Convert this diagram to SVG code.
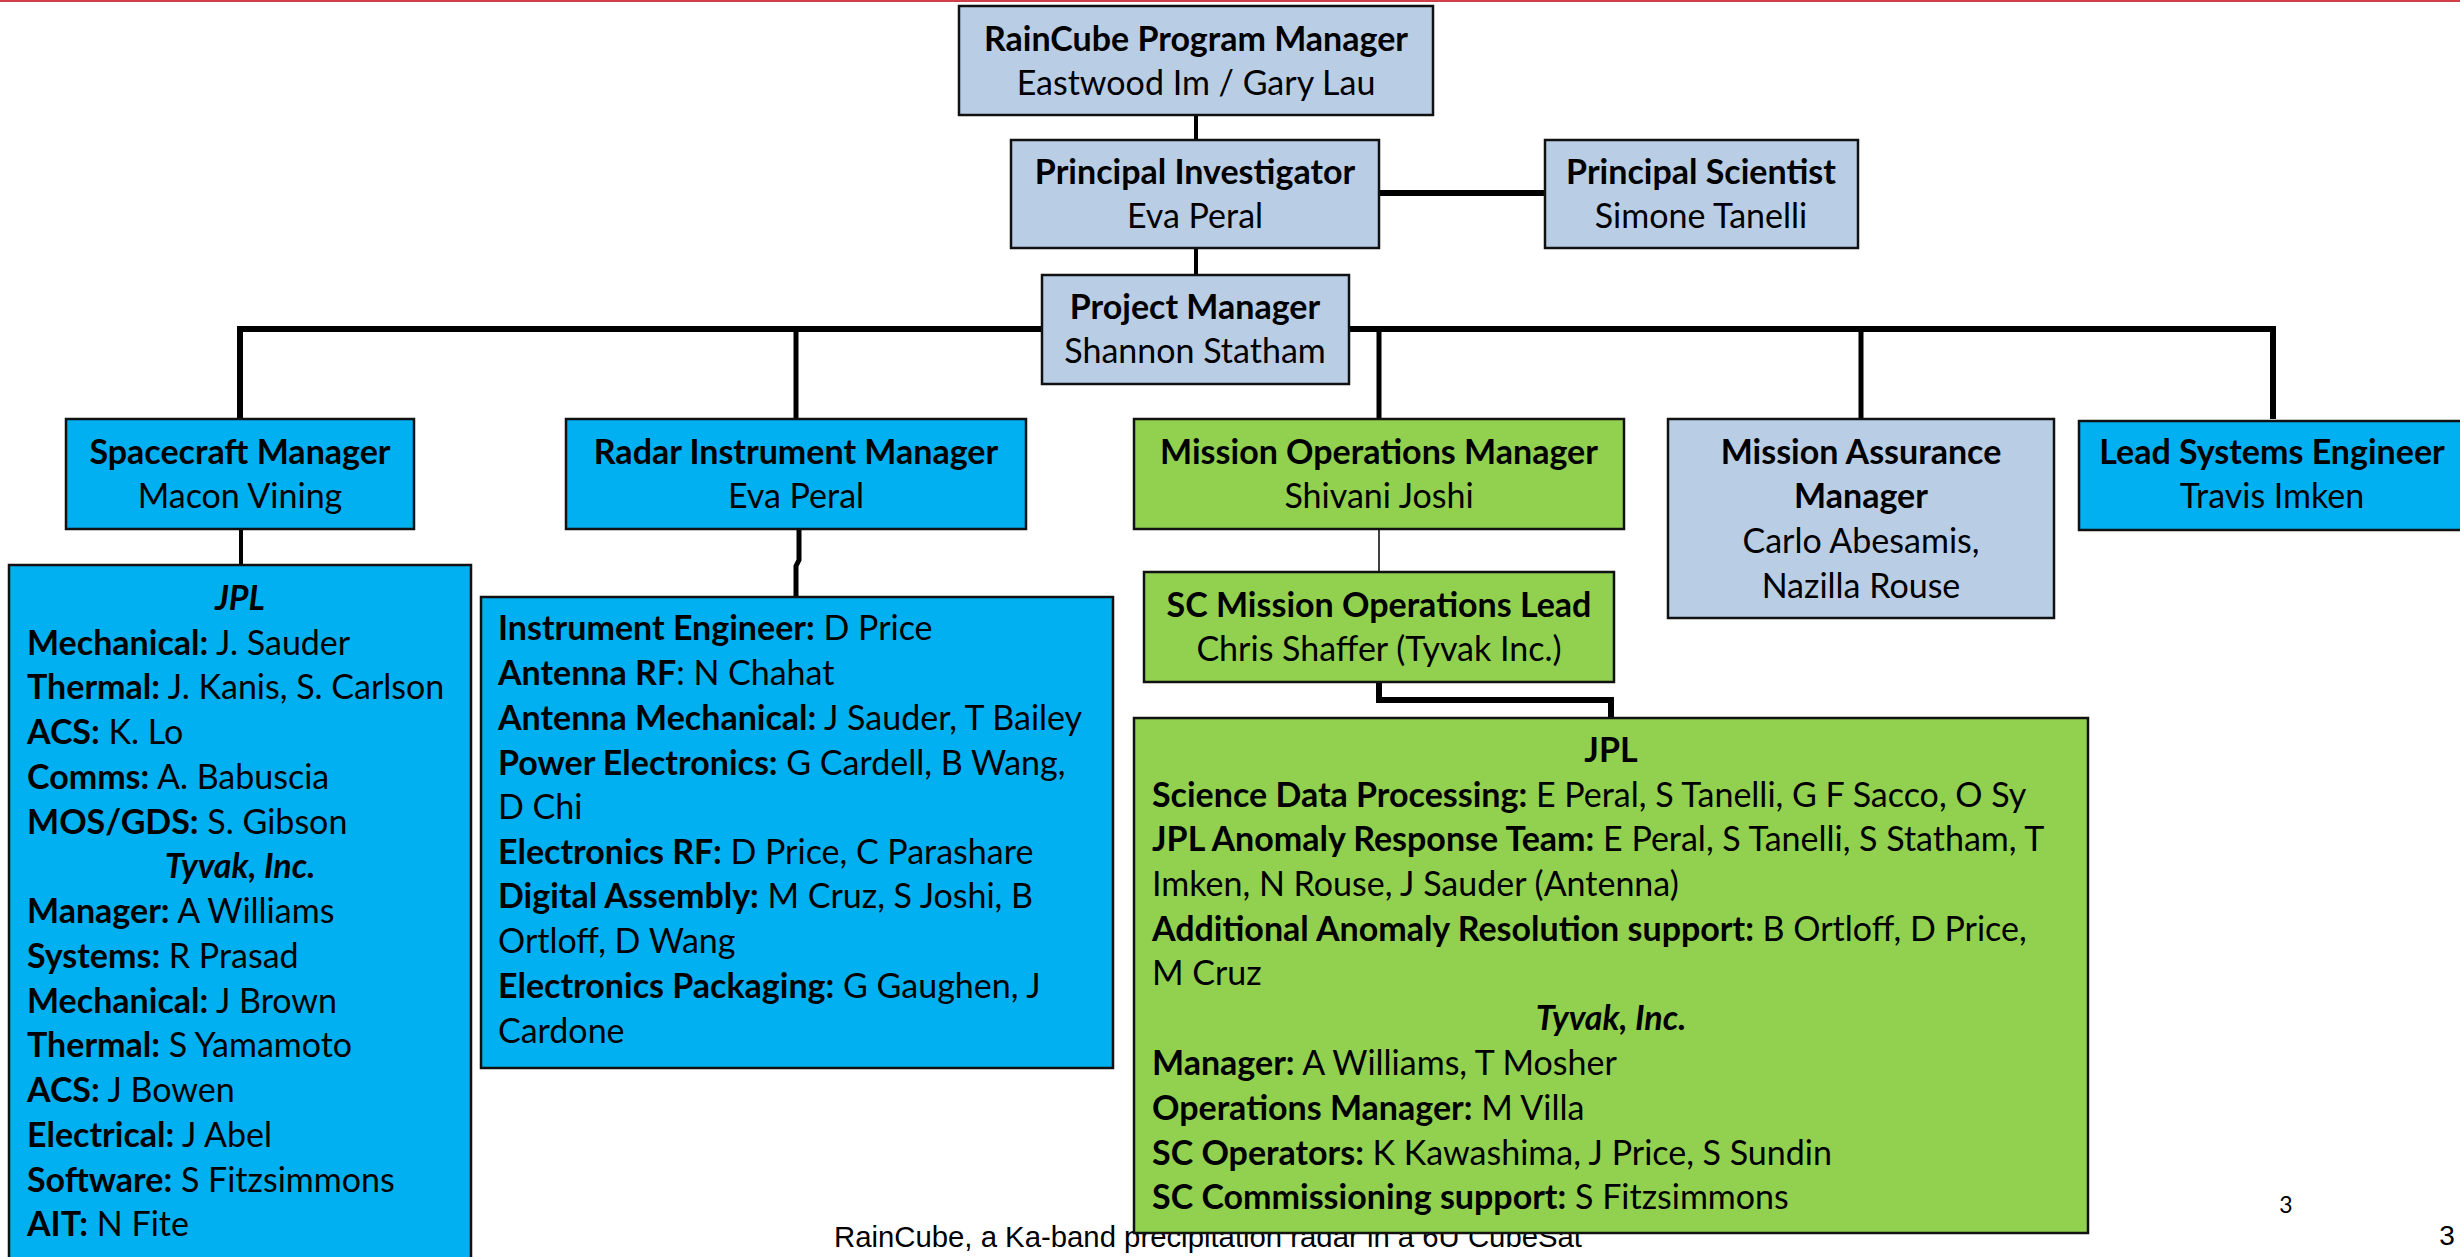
<svg xmlns="http://www.w3.org/2000/svg" width="2460" height="1257" viewBox="0 0 2460 1257">
<style>
.t{font-family:Lato,Carlito,"Liberation Sans",sans-serif;font-size:34px;fill:#000}
.b{font-weight:700}
.bi{font-weight:700;font-style:italic}
.c{text-anchor:middle}
.box{stroke:#111;stroke-width:2.5}
.lb{fill:#B9CDE5}
.cy{fill:#00B0F0}
.gr{fill:#92D050}
.ln{fill:none;stroke:#000;stroke-linejoin:miter}
.foot{font-family:"Liberation Sans",Arial,sans-serif;font-size:30px;fill:#000}
</style>
<rect x="0" y="0" width="2460" height="2" fill="#CF3F4C"/>
<text class="foot" x="834" y="1247" textLength="748" lengthAdjust="spacingAndGlyphs">RainCube, a Ka-band precipitation radar in a 6U CubeSat</text>
<text class="t" x="2286" y="1213" style="font-size:23px" text-anchor="middle">3</text>
<text class="foot" x="2447" y="1245" style="font-size:28px" text-anchor="middle">3</text>

<g id="connectors">
<path class="ln" d="M1196,115 V140" stroke="#2a2a2a" stroke-width="4"/>
<path class="ln" d="M1196,248 V275" stroke="#2a2a2a" stroke-width="4"/>
<path class="ln" d="M1379,193 H1545" stroke="#2a2a2a" stroke-width="6"/>
<path class="ln" d="M240,419 V329 H2273 V419" stroke-width="6"/>
<path class="ln" d="M796,329 V419" stroke-width="5"/>
<path class="ln" d="M1379,329 V419" stroke-width="5"/>
<path class="ln" d="M1861,329 V419" stroke-width="5"/>
<path class="ln" d="M241,529 V565" stroke="#2a2a2a" stroke-width="4"/>
<path class="ln" d="M799,529 V560 L796,566 V597" stroke-width="5"/>
<path class="ln" d="M1379,529 V572" stroke="#777" stroke-width="1.5"/>
<path class="ln" d="M1379,682 V700 H1611 V718" stroke-width="6"/>
</g>

<g id="program-manager">
<rect class="box lb" x="959" y="6" width="474" height="109"/>
<text class="t b c" x="1196" y="51">RainCube Program Manager</text>
<text class="t c" x="1196" y="95">Eastwood Im / Gary Lau</text>
</g>
<g id="principal-investigator">
<rect class="box lb" x="1011" y="140" width="368" height="108"/>
<text class="t b c" x="1195" y="184">Principal Investigator</text>
<text class="t c" x="1195" y="228">Eva Peral</text>
</g>
<g id="principal-scientist">
<rect class="box lb" x="1545" y="140" width="313" height="108"/>
<text class="t b c" x="1701" y="184">Principal Scientist</text>
<text class="t c" x="1701" y="228">Simone Tanelli</text>
</g>
<g id="project-manager">
<rect class="box lb" x="1042" y="275" width="307" height="109"/>
<text class="t b c" x="1195" y="319">Project Manager</text>
<text class="t c" x="1195" y="363">Shannon Statham</text>
</g>
<g id="spacecraft-manager">
<rect class="box cy" x="66" y="419" width="348" height="110"/>
<text class="t b c" x="240" y="464">Spacecraft Manager</text>
<text class="t c" x="240" y="508">Macon Vining</text>
</g>
<g id="radar-manager">
<rect class="box cy" x="566" y="419" width="460" height="110"/>
<text class="t b c" x="796" y="464">Radar Instrument Manager</text>
<text class="t c" x="796" y="508">Eva Peral</text>
</g>
<g id="mission-ops-manager">
<rect class="box gr" x="1134" y="419" width="490" height="110"/>
<text class="t b c" x="1379" y="464">Mission Operations Manager</text>
<text class="t c" x="1379" y="508">Shivani Joshi</text>
</g>
<g id="mission-assurance-manager">
<rect class="box lb" x="1668" y="419" width="386" height="199"/>
<text class="t b c" x="1861" y="464">Mission Assurance</text>
<text class="t b c" x="1861" y="508">Manager</text>
<text class="t c" x="1861" y="553">Carlo Abesamis,</text>
<text class="t c" x="1861" y="598">Nazilla Rouse</text>
</g>
<g id="lead-systems-engineer">
<rect class="box cy" x="2079" y="421" width="400" height="109"/>
<text class="t b c" x="2272" y="464">Lead Systems Engineer</text>
<text class="t c" x="2272" y="508">Travis Imken</text>
</g>
<g id="spacecraft-team">
<rect class="box cy" x="9" y="565" width="462" height="720"/>
<text class="t bi c" x="240" y="610">JPL</text>
<text class="t" x="27" y="655"><tspan class="b">Mechanical:</tspan> J. Sauder</text>
<text class="t" x="27" y="699"><tspan class="b">Thermal:</tspan> J. Kanis, S. Carlson</text>
<text class="t" x="27" y="744"><tspan class="b">ACS:</tspan> K. Lo</text>
<text class="t" x="27" y="789"><tspan class="b">Comms:</tspan> A. Babuscia</text>
<text class="t" x="27" y="834"><tspan class="b">MOS/GDS:</tspan> S. Gibson</text>
<text class="t bi c" x="240" y="878">Tyvak, Inc.</text>
<text class="t" x="27" y="923"><tspan class="b">Manager:</tspan> A Williams</text>
<text class="t" x="27" y="968"><tspan class="b">Systems:</tspan> R Prasad</text>
<text class="t" x="27" y="1013"><tspan class="b">Mechanical:</tspan> J Brown</text>
<text class="t" x="27" y="1057"><tspan class="b">Thermal:</tspan> S Yamamoto</text>
<text class="t" x="27" y="1102"><tspan class="b">ACS:</tspan> J Bowen</text>
<text class="t" x="27" y="1147"><tspan class="b">Electrical:</tspan> J Abel</text>
<text class="t" x="27" y="1192"><tspan class="b">Software:</tspan> S Fitzsimmons</text>
<text class="t" x="27" y="1236"><tspan class="b">AIT:</tspan> N Fite</text>
</g>
<g id="radar-team">
<rect class="box cy" x="481" y="597" width="632" height="471"/>
<text class="t" x="498" y="640"><tspan class="b">Instrument Engineer:</tspan> D Price</text>
<text class="t" x="498" y="685"><tspan class="b">Antenna RF</tspan>: N Chahat</text>
<text class="t" x="498" y="730"><tspan class="b">Antenna Mechanical:</tspan> J Sauder, T Bailey</text>
<text class="t" x="498" y="775"><tspan class="b">Power Electronics:</tspan> G Cardell, B Wang,</text>
<text class="t" x="498" y="819">D Chi</text>
<text class="t" x="498" y="864"><tspan class="b">Electronics RF:</tspan> D Price, C Parashare</text>
<text class="t" x="498" y="908"><tspan class="b">Digital Assembly:</tspan> M Cruz, S Joshi, B</text>
<text class="t" x="498" y="953">Ortloff, D Wang</text>
<text class="t" x="498" y="998"><tspan class="b">Electronics Packaging:</tspan> G Gaughen, J</text>
<text class="t" x="498" y="1043">Cardone</text>
</g>
<g id="sc-mission-ops-lead">
<rect class="box gr" x="1144" y="572" width="470" height="110"/>
<text class="t b c" x="1379" y="617">SC Mission Operations Lead</text>
<text class="t c" x="1379" y="661">Chris Shaffer (Tyvak Inc.)</text>
</g>
<g id="mission-ops-team">
<rect class="box gr" x="1134" y="718" width="954" height="515"/>
<text class="t b c" x="1611" y="762">JPL</text>
<text class="t" x="1152" y="807"><tspan class="b">Science Data Processing:</tspan> E Peral, S Tanelli, G F Sacco, O Sy</text>
<text class="t" x="1152" y="851"><tspan class="b">JPL Anomaly Response Team:</tspan> E Peral, S Tanelli, S Statham, T</text>
<text class="t" x="1152" y="896">Imken, N Rouse, J Sauder (Antenna)</text>
<text class="t" x="1152" y="941"><tspan class="b">Additional Anomaly Resolution support:</tspan> B Ortloff, D Price,</text>
<text class="t" x="1152" y="985">M Cruz</text>
<text class="t bi c" x="1611" y="1030">Tyvak, Inc.</text>
<text class="t" x="1152" y="1075"><tspan class="b">Manager:</tspan> A Williams, T Mosher</text>
<text class="t" x="1152" y="1120"><tspan class="b">Operations Manager:</tspan> M Villa</text>
<text class="t" x="1152" y="1165"><tspan class="b">SC Operators:</tspan> K Kawashima, J Price, S Sundin</text>
<text class="t" x="1152" y="1209"><tspan class="b">SC Commissioning support:</tspan> S Fitzsimmons</text>
</g>
</svg>
